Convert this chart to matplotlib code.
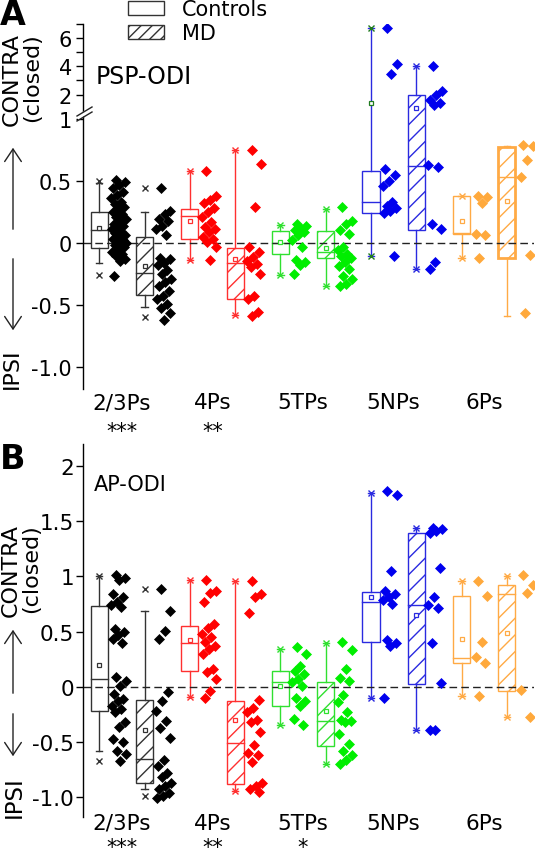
import numpy as np
import matplotlib.pyplot as plt
import matplotlib.transforms as mtransforms
from matplotlib.patches import Rectangle, Patch, FancyArrowPatch, Polygon
from matplotlib.lines import Line2D

# categorias y marcas de significancia
cats = ['2/3Ps', '4Ps', '5TPs', '5NPs', '6Ps']
stars_A = ['***', '**', '', '', '']
stars_B = ['***', '**', '*', '', '']

# ---- Panel A (PSP-ODI): estadisticos de las cajas ----
a_ctrl_q1 = [-0.04, 0.03, -0.09, 0.245, 0.07]
a_ctrl_med = [0.105, 0.22, 0.00, 0.33, 0.08]
a_ctrl_q3 = [0.25, 0.27, 0.095, 0.58, 0.375]
a_ctrl_mean = [0.12, 0.18, 0.01, 1.38, 0.18]
a_ctrl_wlo = [-0.16, -0.14, -0.26, -0.11, -0.12]
a_ctrl_whi = [0.48, 0.58, 0.145, 6.72, 0.38]
a_ctrl_min = [-0.26, -0.14, -0.26, -0.11, -0.12]
a_ctrl_max = [0.50, 0.58, 0.145, 6.72, 0.38]

a_md_q1 = [-0.42, -0.45, -0.125, 0.105, -0.12]
a_md_med = [-0.24, -0.165, -0.07, 0.62, 0.53]
a_md_q3 = [0.046, -0.045, 0.095, 2.0, 0.77]
a_md_mean = [-0.19, -0.13, -0.04, 1.03, 0.34]
a_md_wlo = [-0.52, -0.58, -0.35, -0.21, -0.59]
a_md_whi = [0.25, 0.75, 0.275, 4.0, 0.78]
a_md_min = [-0.60, -0.58, -0.35, -0.21, np.nan]
a_md_max = [0.44, 0.75, 0.275, 4.0, np.nan]

# puntos individuales panel A
a_ctrl_pts = [
    [0.51, 0.49, 0.47, 0.44, 0.41, 0.39, 0.36, 0.33, 0.31, 0.29, 0.27, 0.25, 0.23, 0.21, 0.19,
     0.17, 0.15, 0.14, 0.12, 0.11, 0.09, 0.08, 0.06, 0.05, 0.03, 0.02, 0.01, 0.0, -0.01, -0.02,
     -0.03, -0.05, -0.07, -0.09, -0.11, -0.13, -0.15, -0.27],
    [0.58, 0.38, 0.35, 0.32, 0.28, 0.25, 0.21, 0.17, 0.13, 0.11, 0.09, 0.05, 0.03, 0.005, -0.035, -0.14],
    [0.155, 0.135, 0.12, 0.10, 0.085, 0.065, 0.02, -0.035, -0.14, -0.155, -0.18, -0.25],
    [6.72, 4.2, 3.43, 0.60, 0.55, 0.50, 0.46, 0.33, 0.30, 0.28, 0.26, 0.24, -0.11],
    [0.38, 0.37, 0.32, 0.07, 0.065, -0.12],
]
a_md_pts = [
    [0.44, 0.26, 0.235, 0.19, 0.18, 0.14, 0.11, 0.06, -0.12, -0.13, -0.16, -0.18, -0.22, -0.25,
     -0.29, -0.32, -0.35, -0.39, -0.43, -0.45, -0.49, -0.53, -0.57, -0.62],
    [0.75, 0.64, 0.29, -0.03, -0.075, -0.115, -0.145, -0.17, -0.195, -0.25, -0.43, -0.45, -0.56, -0.59],
    [0.29, 0.18, 0.155, 0.10, 0.07, -0.035, -0.06, -0.09, -0.11, -0.125, -0.155, -0.185, -0.21,
     -0.27, -0.29, -0.33, -0.35],
    [4.0, 2.26, 1.94, 1.63, 1.4, 1.26, 0.63, 0.61, 0.155, 0.11, -0.155, -0.21],
    [0.79, 0.78, 0.67, 0.53, -0.10, -0.57],
]

# ---- Panel B (AP-ODI) ----
b_ctrl_q1 = [-0.22, 0.14, -0.17, 0.41, 0.215]
b_ctrl_med = [0.07, 0.40, 0.04, 0.77, 0.26]
b_ctrl_q3 = [0.736, 0.55, 0.145, 0.86, 0.82]
b_ctrl_mean = [0.197, 0.42, 0.01, 0.81, 0.43]
b_ctrl_wlo = [-0.58, -0.09, -0.35, -0.10, -0.08]
b_ctrl_whi = [1.0, 0.97, 0.34, 1.76, 0.955]
b_ctrl_min = [-0.67, -0.09, -0.35, -0.10, -0.08]
b_ctrl_max = [1.0, 0.97, 0.34, 1.76, 0.955]

b_md_q1 = [-0.87, -0.88, -0.54, 0.025, -0.036]
b_md_med = [-0.65, -0.51, -0.31, 0.74, 0.84]
b_md_q3 = [-0.12, -0.13, 0.045, 1.39, 0.92]
b_md_mean = [-0.39, -0.30, -0.22, 0.65, 0.49]
b_md_wlo = [-0.93, -0.94, -0.70, -0.39, -0.27]
b_md_whi = [0.69, 0.96, 0.40, 1.44, 1.0]
b_md_min = [-0.99, -0.94, -0.70, -0.39, -0.27]
b_md_max = [0.89, 0.96, 0.40, 1.44, 1.0]

b_ctrl_pts = [
    [1.01, 0.99, 0.97, 0.84, 0.81, 0.77, 0.74, 0.72, 0.52, 0.50, 0.47, 0.43, 0.40, 0.085, 0.055,
     0.01, -0.066, -0.11, -0.13, -0.17, -0.20, -0.23, -0.32, -0.36, -0.47, -0.50, -0.58, -0.61, -0.67],
    [0.97, 0.87, 0.85, 0.77, 0.57, 0.53, 0.48, 0.45, 0.41, 0.37, 0.34, 0.30, 0.16, 0.13, 0.07, -0.04, -0.10],
    [0.36, 0.30, 0.19, 0.145, 0.115, 0.07, 0.045, 0.01, -0.10, -0.13, -0.17, -0.29, -0.35],
    [1.77, 1.74, 1.05, 0.87, 0.84, 0.81, 0.79, 0.75, 0.42, 0.40, 0.37, -0.10],
    [0.96, 0.82, 0.41, 0.27, 0.22, -0.08],
]
b_md_pts = [
    [0.89, 0.69, 0.51, 0.43, -0.05, -0.13, -0.22, -0.31, -0.37, -0.46, -0.66, -0.72, -0.78, -0.82,
     -0.87, -0.90, -0.93, -0.96, -0.99, -1.01],
    [0.96, 0.84, 0.81, 0.67, -0.12, -0.19, -0.23, -0.30, -0.32, -0.41, -0.53, -0.60, -0.62, -0.68,
     -0.87, -0.90, -0.93, -0.95],
    [0.41, 0.33, 0.16, 0.08, 0.05, -0.07, -0.14, -0.23, -0.30, -0.31, -0.32, -0.43, -0.52, -0.58,
     -0.62, -0.66, -0.70],
    [1.44, 1.43, 1.41, 1.39, 1.08, 0.81, 0.74, 0.71, 0.40, 0.03, -0.39, -0.39],
    [1.01, 0.92, 0.85, -0.03, -0.27],
]

# colores por capa
box_cols = ['#333333', '#ff3030', '#30e030', '#2a2ae0', '#ffaa45']
pt_cols = ['#000000', '#ff0000', '#00ee00', '#0000ee', '#ffa93c']

W, H = 539, 853
fig = plt.figure(figsize=(W / 100, H / 100), dpi=100)


def fx(x):
    return x / W


def fy(y):
    return 1 - y / H


def ejes(l, t, r, b):
    return fig.add_axes([l / W, 1 - b / H, (r - l) / W, (b - t) / H])


# escala con corte para el panel A (arriba de 1 se comprime)
K = 0.114
GAP = 0.083


def fwd(y):
    y = np.asarray(y, dtype=float)
    return np.where(y <= 1, y, 1 + GAP + (y - 1) * K)


def inv(t):
    t = np.asarray(t, dtype=float)
    return np.where(t <= 1, t, np.where(t < 1 + GAP, 1.0, 1 + (t - 1 - GAP) / K))


BW = 0.19
OFF = 0.25


def caja(ax, x0, q1, med, q3, mean, wlo, whi, vmin, vmax, bc, hatch, lw=1.0, mc=None):
    mc = mc or bc
    ax.add_patch(Rectangle((x0 - BW / 2, q1), BW, q3 - q1, facecolor='none', edgecolor=bc,
                           hatch=hatch, lw=lw, zorder=2))
    ax.plot([x0 - BW / 2, x0 + BW / 2], [med, med], color=bc, lw=1.0, zorder=2)
    ax.plot([x0, x0], [q3, whi], color=bc, lw=1.0, zorder=2)
    ax.plot([x0, x0], [wlo, q1], color=bc, lw=1.0, zorder=2)
    for w in (wlo, whi):
        ax.plot([x0 - 0.035, x0 + 0.035], [w, w], color=bc, lw=1.0, zorder=2)
    ax.plot([x0], [mean], 's', ms=3.5, mfc='white', mec=mc, mew=0.9, zorder=3)
    ax.plot([x0, x0], [vmin, vmax], 'x', ms=4, color=mc, mew=1.0, ls='none', zorder=3)


def puntos(ax, x0, vals, c):
    k = np.arange(len(vals))
    xs = x0 + 0.13 + 0.17 * ((k * 0.618034 + 0.3) % 1.0)
    ax.plot(xs, vals, 'D', ms=5.0, color=c, mec=c, mew=0.5, ls='none', zorder=3)


def panel(ax, ctrl, md, cpts, mpts, stars, star_base, md_lw, ctrl_mc):
    for i in range(len(cats)):
        xc = i - OFF
        xm = i + OFF
        caja(ax, xc, *[s[i] for s in ctrl], box_cols[i], None, mc=ctrl_mc[i])
        caja(ax, xm, *[s[i] for s in md], box_cols[i], '//', lw=md_lw[i])
        puntos(ax, xc, cpts[i], pt_cols[i])
        puntos(ax, xm, mpts[i], pt_cols[i])
    ax.axhline(0, color='#222222', lw=1.0, ls=(0, (5.5, 3)), zorder=2.5)
    ax.set_xlim(-0.43, 4.55)
    for s in ('top', 'right', 'bottom'):
        ax.spines[s].set_visible(False)
    ax.spines['left'].set_linewidth(1.0)
    ax.set_xticks(range(len(cats)))
    ax.set_xticklabels(cats, fontsize=15.5)
    ax.tick_params(axis='x', length=0)
    # asteriscos de significancia bajo cada etiqueta
    tr = mtransforms.blended_transform_factory(ax.transData, fig.transFigure)
    for i, s in enumerate(stars):
        if s:
            ax.text(i, fy(star_base), s, transform=tr, ha='center', va='baseline', fontsize=15)


# ---------- Panel A ----------
axA = ejes(83, 25, 534, 390)
axA.set_yscale('function', functions=(fwd, inv))
panel(axA,
      [a_ctrl_q1, a_ctrl_med, a_ctrl_q3, a_ctrl_mean, a_ctrl_wlo, a_ctrl_whi, a_ctrl_min, a_ctrl_max],
      [a_md_q1, a_md_med, a_md_q3, a_md_mean, a_md_wlo, a_md_whi, a_md_min, a_md_max],
      a_ctrl_pts, a_md_pts, stars_A, 438, [1, 1, 1, 1, 2.0], [None, None, None, '#1f7a1f', None])
axA.set_ylim(-1.18, 7.0)
ticksA = [-1, -0.5, 0, 0.5, 1, 2, 3, 4, 5, 6, 7]
labsA = ['-1.0', '-0.5', '0', '0.5', '1', '2', '', '4', '', '6', '']
axA.set_yticks(ticksA)
axA.set_yticklabels(labsA)
axA.minorticks_off()
axA.tick_params(axis='y', direction='out', length=5, width=1, labelsize=15, pad=3)
axA.tick_params(axis='x', pad=2.5)

# marca de corte del eje
fig.add_artist(Polygon([(fx(78), fy(116)), (fx(91), fy(108)), (fx(91), fy(113)), (fx(78), fy(121))],
                       closed=True, transform=fig.transFigure, facecolor='white', edgecolor='none'))
for dy in (0, 5):
    fig.add_artist(Line2D([fx(77), fx(92)], [fy(117 + dy), fy(108 + dy)], transform=fig.transFigure,
                          color='#222222', lw=1.0))

# ---------- Panel B ----------
axB = ejes(83, 445, 534, 818)
panel(axB,
      [b_ctrl_q1, b_ctrl_med, b_ctrl_q3, b_ctrl_mean, b_ctrl_wlo, b_ctrl_whi, b_ctrl_min, b_ctrl_max],
      [b_md_q1, b_md_med, b_md_q3, b_md_mean, b_md_wlo, b_md_whi, b_md_min, b_md_max],
      b_ctrl_pts, b_md_pts, stars_B, 854, [1, 1, 1, 1, 1], [None] * 5)
axB.set_ylim(-1.18, 2.2)
ticksB = [-1, -0.5, 0, 0.5, 1, 1.5, 2]
axB.set_yticks(ticksB)
axB.set_yticklabels(['-1.0', '-0.5', '0', '0.5', '1', '1.5', '2'])
axB.tick_params(axis='y', direction='out', length=5, width=1, labelsize=15.5, pad=1.5)
axB.tick_params(axis='x', pad=-3)

# ---------- textos ----------
fig.text(fx(0), fy(25), 'A', ha='left', va='baseline', fontsize=24, fontweight='bold')
fig.text(fx(0), fy(469), 'B', ha='left', va='baseline', fontsize=24, fontweight='bold')
fig.text(fx(96), fy(77), 'PSP-ODI', ha='left', va='center', fontsize=17)
fig.text(fx(94), fy(485), 'AP-ODI', ha='left', va='center', fontsize=15)

# etiquetas del eje y con flechas
fig.text(fx(2), fy(33), 'CONTRA\n(closed)', rotation=90, ha='left', va='top', fontsize=16,
         linespacing=1.02, multialignment='right')
fig.text(fx(2), fy(389), 'IPSI', rotation=90, ha='left', va='bottom', fontsize=16)
fig.text(fx(1), fy(524), 'CONTRA\n(closed)', rotation=90, ha='left', va='top', fontsize=16,
         linespacing=1.0, multialignment='right')
fig.text(fx(3), fy(818), 'IPSI', rotation=90, ha='left', va='bottom', fontsize=16.5)

for y0, y1 in [(233, 146), (257, 334), (697, 628), (712, 760)]:
    fig.add_artist(FancyArrowPatch((fx(13), fy(y0)), (fx(13), fy(y1)), transform=fig.transFigure,
                                   arrowstyle='->,head_length=0.6,head_width=0.4', mutation_scale=15,
                                   lw=1.0, color='#222222'))

# leyenda
handles = [Patch(facecolor='white', edgecolor='#333333', lw=1.0),
           Patch(facecolor='white', edgecolor='#333333', hatch='///', lw=1.0)]
fig.legend(handles, ['Controls', 'MD'], loc='upper left', bbox_to_anchor=(fx(128), fy(0)),
           frameon=False, fontsize=15, handlelength=1.75, handleheight=0.65, handletextpad=0.85,
           labelspacing=0.2, borderpad=0, borderaxespad=0)

fig.savefig('out.png', dpi=100)
